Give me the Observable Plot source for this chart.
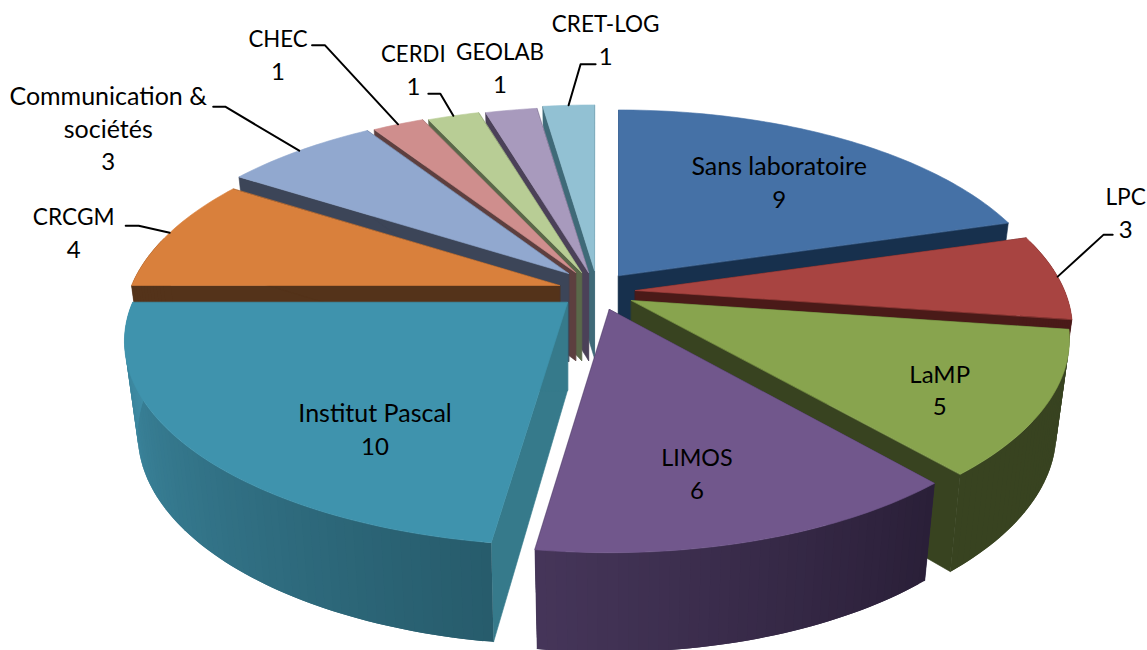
<!DOCTYPE html>
<html><head><meta charset="utf-8">
<script src="https://cdn.jsdelivr.net/npm/d3@7"></script>
<script src="https://cdn.jsdelivr.net/npm/@observablehq/plot@0.6"></script>
<style>html,body{margin:0;padding:0;background:#fff}svg{display:block}</style>
</head><body><div id="chart"></div>
<script>
// Chart values
const labs = ["Sans laboratoire","LPC","LaMP","LIMOS","Institut Pascal","CRCGM","Communication &\nsociétés","CHEC","CERDI","GEOLAB","CRET-LOG"];
const counts = [9,3,5,6,10,4,3,1,1,1,1];
// Styles
const topColors = ["#4571a6","#a84441","#88a44e","#71578c","#3f93ad","#d9803c","#91a8cf","#cf8e8d","#b8cd95","#a89abd","#92c1d3"];
const faceColors = ["#17304d","#4a1a18","#384320","#2c2040","#367a8b","#54331a","#3c4558","#5d3f3f","#5a6849","#4b4158","#3f6a78"];
const rimFrom = ["#17304d","#4a1a18","#384320","#2a1f38","#275c6c","#54331a","#3c4558","#5d3f3f","#5a6849","#4b4158","#3f6a78"];
const rimTo   = ["#17304d","#4a1a18","#384320","#46365a","#3f8da6","#54331a","#3c4558","#5d3f3f","#5a6849","#4b4158","#3f6a78"];
const labelSize = [25,22.7,24,23.3,25,22.7,25,22.2,22.2,22.4,22.5];
// Explosion of each slice away from the pie's centre (px) and slice radius
const center = [597,283];
const explode = [[21,-8],[38,7],[34,17],[12,26],[-30,19],[-38,2],[-29,-10],[-22,-11],[-16,-11],[-9,-11],[-3,-13]];
const radius = [428,429,430,425,435,428,432,432,432,432,432];
// Label layout relative to each slice's rim mid-point; leader = [elbow, end]
const labelOffset = [[-62,45],[68,-63],[-107,-13],[-59,-66],[183,-19],[-96,1],[-191,-21],[-120,-68],[-40,-45],[-11,-41],[37,-64]];
const leaders = [null,[[46,-42],[55,-42]],null,null,null,[[-31,-7],[-44,-7]],[[-74,-44],[-86,-44]],[[-73,-79],[-86,-79]],[[-13,-22],[-25,-22]],null,[[12,-41],[27,-41]]];
const drawOrder = [10,9,8,7,6,5,0,1,2,3,4];

const total = d3.sum(counts), K = 0.19, RY = 197, W = 1147, H = 650, LINE = 32.7;
let cum = 0;
const slices = counts.map((v,i)=>{ const a0=cum/total*2*Math.PI; cum+=v; const a1=cum/total*2*Math.PI;
  return {i,a0,a1,ax:center[0]+explode[i][0],ay:center[1]+explode[i][1],R:radius[i]}; });
function topPt(s,a){ const X=Math.sin(a),Y=Math.cos(a),p=1/(1+K*Y); return [s.ax+s.R*X*p, s.ay-RY*Y*p]; }
function botPt(s,a){ const X=Math.sin(a),Y=Math.cos(a),p=1/(1+K*Y); return [s.ax+0.97*s.R*X*p, s.ay-RY*Y*p+60+32*p]; }
const apexB = s=>[s.ax,s.ay+88];
const polys=[]; let id=0;
function poly(pts,c,sc){ id++; pts.forEach(p=>polys.push({x:p[0],y:p[1],z:id,c,sc})); }
for(const k of drawOrder){ const s=slices[k];
  // radial faces
  for(const a of [s.a0,s.a1]) poly([[s.ax,s.ay],topPt(s,a),botPt(s,a),apexB(s)],faceColors[k],faceColors[k]);
  // outer rim, shaded band by band; each band overlaps the next so no seam shows
  const n=Math.max(4,Math.ceil((s.a1-s.a0)/0.02));
  const col=d3.interpolateRgb(rimFrom[k],rimTo[k]);
  for(let j=0;j<n;j++){ const u=s.a0+(s.a1-s.a0)*j/n,v=s.a0+(s.a1-s.a0)*Math.min(n,j+2)/n;
    if(Math.cos((u+v)/2)<0.25) poly([topPt(s,u),topPt(s,v),botPt(s,v),botPt(s,u)],col(j/n),"none"); }
  // top surface
  const pts=[[s.ax,s.ay]];
  for(let j=0;j<=n;j++) pts.push(topPt(s,s.a0+(s.a1-s.a0)*j/n));
  poly(pts,topColors[k],topColors[k]);
}
const texts=[], lines=[];
slices.forEach(s=>{ const i=s.i, r=topPt(s,(s.a0+s.a1)/2);
  const rows=labs[i].split("\n").map(t=>({t,size:labelSize[i]})).concat([{t:String(counts[i]),size:24}]);
  rows.forEach((row,j)=>texts.push({x:r[0]+labelOffset[i][0],y:r[1]+labelOffset[i][1]+(j-(rows.length-1)/2)*LINE,t:row.t,size:row.size}));
  if(leaders[i]){ [[0,0],...leaders[i]].forEach(o=>lines.push({x:r[0]+o[0],y:r[1]+o[1],z:i})); }
});
const chart = Plot.plot({
  width:W,height:H,margin:0,
  x:{domain:[0,W],range:[0,W],axis:null},
  y:{domain:[0,H],range:[0,H],axis:null},
  color:{type:"identity"},
  style:{background:"#fff"},
  marks:[
    Plot.line(polys,{x:"x",y:"y",z:"z",fill:"c",stroke:"sc",strokeWidth:0.6,curve:"linear-closed"}),
    Plot.line(lines,{x:"x",y:"y",z:"z",stroke:"#000",strokeWidth:2}),
    Plot.text(texts,{x:"x",y:"y",text:"t",fontFamily:"Lato",fontSize:"size",fill:"#000",textAnchor:"middle"})
  ]
});
document.getElementById("chart").append(chart);
</script></body></html>
